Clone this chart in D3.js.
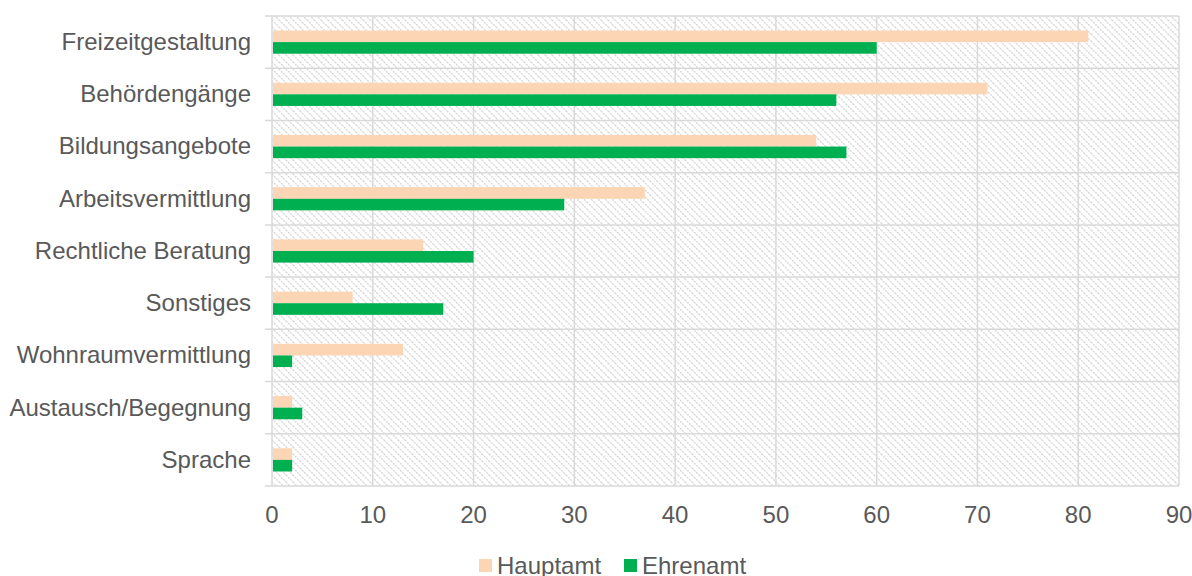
<!DOCTYPE html>
<html><head><meta charset="utf-8">
<script src="https://cdn.jsdelivr.net/npm/d3@7/dist/d3.min.js"></script>
<style>body{margin:0;background:#fff;}svg{display:block;font-family:"Liberation Sans",Arial,sans-serif;}</style>
</head><body><svg id="c" width="1192" height="576"></svg>
<script>
const categories = ["Freizeitgestaltung","Behördengänge","Bildungsangebote","Arbeitsvermittlung","Rechtliche Beratung","Sonstiges","Wohnraumvermittlung","Austausch/Begegnung","Sprache"];
const hauptamt = [81,71,54,37,15,8,13,2,2];
const ehrenamt = [60,56,57,29,20,17,2,3,2];
const seriesNames = ["Hauptamt","Ehrenamt"];
const xTicks = [0,10,20,30,40,50,60,70,80,90];

(function(){
const colors = ["#FCD5B5","#00B050"];
const svg = d3.select("#c");
const pl = 272, pr = 1179, pt = 16, pb = 486;
const x = d3.scaleLinear().domain([0,90]).range([pl,pr]);
const y = d3.scaleBand().domain(categories).range([pt,pb]);
const inner = d3.scaleBand().domain(seriesNames).range([0,y.bandwidth()]).paddingInner(0).paddingOuter(1.25);

const defs = svg.append("defs");
const pat = defs.append("pattern").attr("id","hatch").attr("patternUnits","userSpaceOnUse").attr("width",7).attr("height",7);
pat.append("rect").attr("width",7).attr("height",7).attr("fill","#fff");
pat.append("path").attr("d","M-1,-1 L8,8 M-1,6 L1,8 M6,-1 L8,1").attr("stroke","#d6d6d6").attr("stroke-width",1.3).attr("stroke-dasharray","2,1");

svg.append("rect").attr("x",pl).attr("y",pt).attr("width",pr-pl).attr("height",pb-pt).attr("fill","url(#hatch)");

const grid = "#D9D9D9";
svg.append("g").selectAll("line").data(xTicks).join("line")
  .attr("x1",d=>x(d)).attr("x2",d=>x(d)).attr("y1",pt).attr("y2",pb)
  .attr("stroke",grid).attr("stroke-width",1.5);
const bounds = categories.map(c=>y(c)).concat([pb]);
svg.append("g").selectAll("line").data(bounds).join("line")
  .attr("x1",pl-7).attr("x2",pr).attr("y1",d=>d).attr("y2",d=>d)
  .attr("stroke",grid).attr("stroke-width",1.5);

const data = categories.map((c,i)=>({c, vals:[hauptamt[i],ehrenamt[i]]}));
const g = svg.append("g");
data.forEach(d=>{
  seriesNames.forEach((s,j)=>{
    g.append("rect").attr("x",x(0)+1).attr("y",y(d.c)+inner(s))
     .attr("width",x(d.vals[j])-x(0)-1).attr("height",inner.bandwidth()).attr("fill",colors[j]);
  });
});

const tc = "#595959";
svg.append("g").selectAll("text").data(categories).join("text")
  .attr("x",251).attr("y",d=>y(d)+y.bandwidth()/2).attr("dy","0.33em")
  .attr("text-anchor","end").attr("font-size",24).attr("fill",tc).text(d=>d);
svg.append("g").selectAll("text").data(xTicks).join("text")
  .attr("x",d=>x(d)).attr("y",523).attr("text-anchor","middle").attr("font-size",24).attr("fill",tc).text(d=>d);

const leg = [{n:"Hauptamt",c:colors[0],x:479},{n:"Ehrenamt",c:colors[1],x:624}];
leg.forEach(l=>{
  svg.append("rect").attr("x",l.x).attr("y",559).attr("width",13).attr("height",13).attr("fill",l.c);
  svg.append("text").attr("x",l.x+18).attr("y",574).attr("font-size",24).attr("fill",tc).text(l.n);
});
})();
</script></body></html>
